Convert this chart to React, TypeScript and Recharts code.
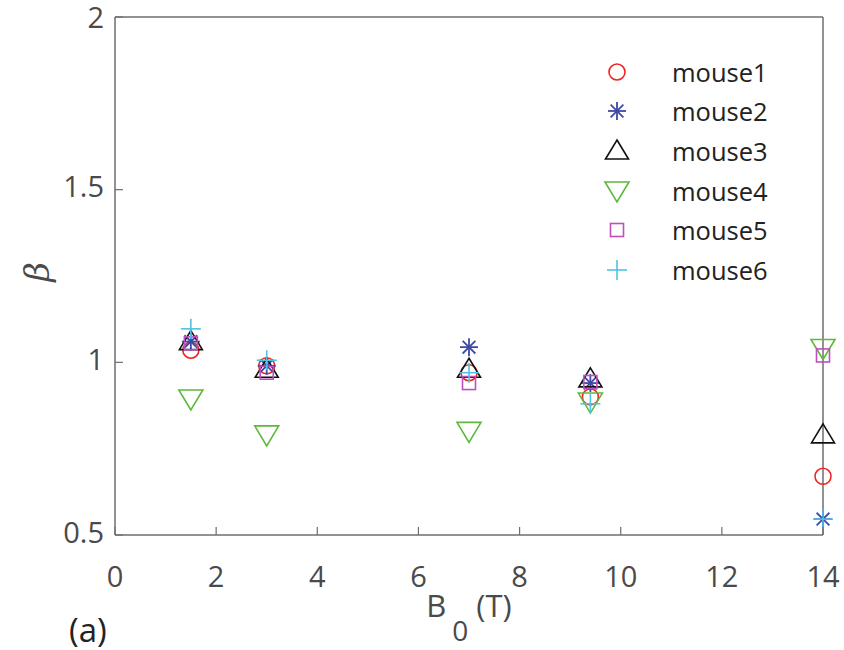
import React from 'react';
import { ScatterChart, Scatter, XAxis, YAxis, Legend } from 'recharts';

const B0 = [1.5, 3, 7, 9.4, 14];
const mouse1 = [1.035, 0.99, 0.97, 0.9, 0.67];
const mouse2 = [1.06, 0.99, 1.044, 0.94, 0.546];
const mouse3 = [1.06, 0.98, 0.98, 0.952, 0.79];
const mouse4 = [0.894, 0.79, 0.8, 0.885, 1.04];
const mouse5 = [1.055, 0.97, 0.94, 0.943, 1.02];
const mouse6 = [1.097, 1.006, 0.97, 0.88, 0.546];
const seriesNames = ['mouse1', 'mouse2', 'mouse3', 'mouse4', 'mouse5', 'mouse6'];
const xTicks = [0, 2, 4, 6, 8, 10, 12, 14];
const yTicks = [0.5, 1, 1.5, 2];

const allValues = [mouse1, mouse2, mouse3, mouse4, mouse5, mouse6];
const colors = ['#f02424', '#3b4aa6', '#111111', '#5db83c', '#bf4fbf', '#52c2e2'];
const FONT = '"Open Sans", "Noto Sans", sans-serif';
const AXIS = '#6e6e6e';
const TICKTEXT = '#4a4a4a';

function Marker({ kind, cx, cy }: { kind: number; cx: number; cy: number }) {
  const c = colors[kind];
  const sw = 1.6;
  switch (kind) {
    case 0:
      return <circle cx={cx} cy={cy} r={8} fill="none" stroke={c} strokeWidth={sw} />;
    case 1: {
      const r = 9;
      const d = r * Math.SQRT1_2;
      return (
        <g stroke={c} strokeWidth={1.8}>
          <line x1={cx - r} y1={cy} x2={cx + r} y2={cy} />
          <line x1={cx} y1={cy - r} x2={cx} y2={cy + r} />
          <line x1={cx - d} y1={cy - d} x2={cx + d} y2={cy + d} />
          <line x1={cx - d} y1={cy + d} x2={cx + d} y2={cy - d} />
        </g>
      );
    }
    case 2:
      return (
        <polygon
          points={`${cx},${cy - 11} ${cx + 11.5},${cy + 8} ${cx - 11.5},${cy + 8}`}
          fill="none"
          stroke={c}
          strokeWidth={sw}
        />
      );
    case 3:
      return (
        <polygon
          points={`${cx - 12},${cy - 9} ${cx + 12},${cy - 9} ${cx},${cy + 11}`}
          fill="none"
          stroke={c}
          strokeWidth={sw}
        />
      );
    case 4:
      return <rect x={cx - 6.5} y={cy - 6.5} width={13} height={13} fill="none" stroke={c} strokeWidth={sw} />;
    default:
      return (
        <g stroke={c} strokeWidth={sw}>
          <line x1={cx - 10} y1={cy} x2={cx + 10} y2={cy} />
          <line x1={cx} y1={cy - 10} x2={cx} y2={cy + 10} />
        </g>
      );
  }
}

const makeShape = (kind: number) => (props: any) => <Marker kind={kind} cx={props.cx} cy={props.cy} />;

const datasets = allValues.map((vals) => vals.map((v, i) => ({ x: B0[i], y: v })));

const XM = 44;
const BottomTick = (props: any) => {
  const { x, y, payload } = props;
  return (
    <g>
      <line x1={x} y1={y - XM} x2={x} y2={y - XM - 8} stroke={AXIS} strokeWidth={1.2} />
      <text x={x} y={y} textAnchor="middle" dominantBaseline="middle" fontSize={29} fontFamily={FONT} fill={TICKTEXT}>
        {payload.value}
      </text>
    </g>
  );
};

const YM = 11;
const LeftTick = (props: any) => {
  const { x, y, payload } = props;
  return (
    <g>
      <line x1={x + YM} y1={y} x2={x + YM + 8} y2={y} stroke={AXIS} strokeWidth={1.2} />
      <text x={x} y={Math.max(y, 20)} textAnchor="end" dominantBaseline="middle" fontSize={29} fontFamily={FONT} fill={TICKTEXT}>
        {payload.value}
      </text>
    </g>
  );
};

const TopTick = (props: any) => {
  const { x, y } = props;
  return <line x1={x} y1={y} x2={x} y2={y + 8} stroke={AXIS} strokeWidth={1.2} />;
};

const RightTick = (props: any) => {
  const { x, y } = props;
  return <line x1={x} y1={y} x2={x - 8} y2={y} stroke={AXIS} strokeWidth={1.2} />;
};

const XLabel = (props: any) => {
  const vb = props.viewBox || {};
  const cx = vb.x + vb.width / 2;
  return (
    <text x={cx} y={617} textAnchor="middle" fontSize={31} fontFamily={FONT} fill={TICKTEXT}>
      <tspan>B</tspan>
      <tspan dx={6} dy={24} fontSize={28}>0</tspan>
      <tspan dx={8} dy={-24}>(T)</tspan>
    </text>
  );
};

const YLabel = () => (
  <text
    x={40}
    y={272}
    transform="rotate(-90 40 272)"
    textAnchor="middle"
    dominantBaseline="middle"
    fontSize={34}
    fontStyle="italic"
    fontFamily='"DejaVu Serif", serif'
    fill={TICKTEXT}
  >
    β
  </text>
);

const LegendContent = () => (
  <div style={{ fontFamily: FONT, fontSize: 25.5, color: '#222' }}>
    {seriesNames.map((n, i) => (
      <div key={n} style={{ height: 39.6, display: 'flex', alignItems: 'center' }}>
        <svg width={40} height={30} style={{ display: 'block' }}>
          <Marker kind={i} cx={19} cy={15} />
        </svg>
        <span style={{ marginLeft: 34 }}>{n}</span>
      </div>
    ))}
  </div>
);

export default function App() {
  return (
    <div style={{ position: 'absolute', left: 0, top: 0, width: 844, height: 650, background: '#fff' }}>
      <ScatterChart width={844} height={650} margin={{ top: 16, right: 20, left: 0, bottom: 0 }}>
        <XAxis
          xAxisId="b"
          type="number"
          dataKey="x"
          domain={[0, 14]}
          ticks={xTicks}
          interval={0}
          orientation="bottom"
          height={115}
          tickSize={0}
          tickMargin={XM}
          tickLine={false}
          axisLine={{ stroke: AXIS, strokeWidth: 1.5 }}
          tick={<BottomTick />}
          label={<XLabel />}
        />
        <XAxis
          xAxisId="t"
          type="number"
          dataKey="x"
          domain={[0, 14]}
          ticks={xTicks.slice(1, -1)}
          interval={0}
          orientation="top"
          height={1}
          tickSize={0}
          tickMargin={0}
          tickLine={false}
          axisLine={{ stroke: AXIS, strokeWidth: 1.5 }}
          tick={<TopTick />}
        />
        <YAxis
          yAxisId="l"
          type="number"
          dataKey="y"
          domain={[0.5, 2]}
          ticks={yTicks}
          interval={0}
          width={115}
          tickSize={0}
          tickMargin={YM}
          tickLine={false}
          axisLine={{ stroke: AXIS, strokeWidth: 1.5 }}
          tick={<LeftTick />}
          label={<YLabel />}
        />
        <YAxis
          yAxisId="r"
          type="number"
          dataKey="y"
          domain={[0.5, 2]}
          ticks={yTicks.slice(1, -1)}
          interval={0}
          orientation="right"
          width={1}
          tickSize={0}
          tickMargin={0}
          tickLine={false}
          axisLine={{ stroke: AXIS, strokeWidth: 1.5 }}
          tick={<RightTick />}
        />
        {datasets.map((d, i) => (
          <Scatter
            key={seriesNames[i]}
            name={seriesNames[i]}
            data={d}
            xAxisId="b"
            yAxisId="l"
            shape={makeShape(i)}
            isAnimationActive={false}
          />
        ))}
        <Legend
          layout="horizontal"
          verticalAlign="middle"
          align="center"
          content={<LegendContent />}
          wrapperStyle={{ position: 'absolute', top: 52, left: 598, width: 220 }}
        />
      </ScatterChart>
      <div style={{ position: 'absolute', left: 69, top: 613, fontFamily: FONT, fontSize: 33, lineHeight: '34px', color: '#222' }}>(a)</div>
    </div>
  );
}
